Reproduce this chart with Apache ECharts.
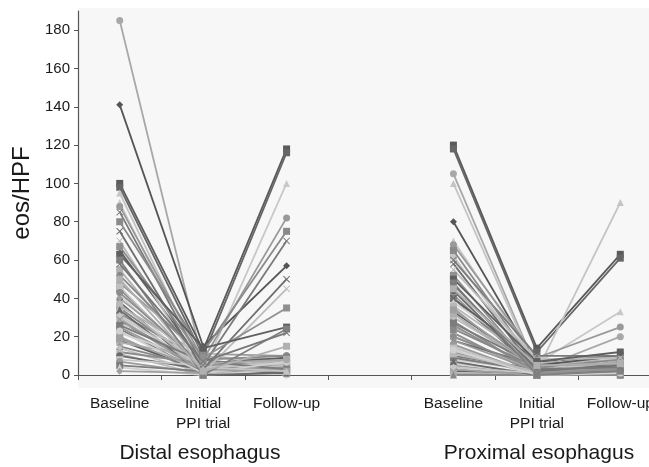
<!DOCTYPE html>
<html>
<head>
<meta charset="utf-8">
<script src="https://cdn.jsdelivr.net/npm/echarts@6/dist/echarts.min.js"></script>
<style>html,body{margin:0;padding:0;background:#fff;}#c{width:649px;height:467px;}</style>
</head>
<body>
<div id="c"></div>
<script>
// Categories (blank slot separates the two sites)
const categories = ['Baseline', 'Initial\nPPI trial', 'Follow-up', '', 'Baseline', 'Initial\nPPI trial', 'Follow-up'];
const yTicks = [0, 20, 40, 60, 80, 100, 120, 140, 160, 180];
const siteTitles = ['Distal esophagus', 'Proximal esophagus'];

// Per-patient values (eos/HPF), index = patient
const distalBaseline = [185,141,100,98,95,90,88,85,80,75,70,67,63,60,58,50,48,45,42,40,38,36,35,33,32,30,28,27,25,24,22,20,18,17,15,14,12,11,10,8,7,5,4,2,65,55,52,46,43,37,34,31,29,26,23,19];
const distalPPI      = [6,15,13,10,4,2,8,5,12,3,1,9,14,0,7,2,11,3,0,6,1,10,4,2,8,0,5,12,3,1,7,0,2,9,4,1,6,0,3,5,1,2,0,1,6,2,8,1,5,3,0,4,2,7,1,3];
const distalFollowup = [8,57,118,116,2,100,82,70,75,50,45,35,25,24,22,15,10,9,8,7,6,5,5,4,3,3,2,2,1,1,0,6,4,8,3,5,2,7,1,4,6,2,3,5,9,3,10,5,2,8,1,6,4,3,7,2];
const proxBaseline   = [105,80,120,118,100,70,68,60,65,58,55,52,50,48,47,45,42,40,38,35,33,30,28,25,22,20,18,15,12,10,8,5,2,1,0,30,26,36,44,62,16,9,6,3,40,32,24,14,20,11,7,4,18,27,13,34];
const proxPPI        = [3,5,14,12,2,6,9,10,4,2,8,1,7,0,3,5,1,2,9,0,4,6,1,3,0,2,5,1,0,3,2,0,1,0,0,4,2,6,1,3,0,2,1,0,7,2,4,1,3,2,0,1,2,5,0,3];
const proxFollowup   = [20,10,63,61,90,33,25,10,8,5,9,3,12,2,4,6,1,7,5,3,2,8,0,4,1,6,2,9,3,0,5,1,4,2,0,10,7,3,5,8,2,6,1,3,10,4,1,5,0,7,2,9,3,6,1,4];

// Styles
const X = 'path://M0,1L1,0L5,4L9,0L10,1L6,5L10,9L9,10L5,6L1,10L0,9L4,5Z';
const DASH = 'path://M0,4L10,4L10,6L0,6Z';
const leadSymbols = ['circle','diamond','rect','rect','triangle','triangle','circle',X,DASH,X,X,DASH,'rect','rect',X,DASH];
const leadColors  = ['#a8a8a8','#555555','#5a5a5a','#666666','#c4c4c4','#c8c8c8','#999999','#7a7a7a','#8a8a8a','#6e6e6e','#bcbcbc','#909090','#5f5f5f','#808080','#777777','#b0b0b0'];
const restSymbols = ['circle','rect','triangle','diamond',X,DASH,'circle','rect'];
const restColors  = ['#8c8c8c','#b8b8b8','#6a6a6a','#c6c6c6','#9a9a9a','#7c7c7c','#d0d0d0','#a0a0a0','#5e5e5e','#b0b0b0','#888888','#c0c0c0'];

const series = distalBaseline.map((b, i) => {
  const sym = i < leadSymbols.length ? leadSymbols[i] : restSymbols[i % restSymbols.length];
  const col = i < leadColors.length ? leadColors[i] : restColors[i % restColors.length];
  return {
    type: 'line',
    name: 'P' + (i + 1),
    data: [b, distalPPI[i], distalFollowup[i], null, proxBaseline[i], proxPPI[i], proxFollowup[i]],
    connectNulls: false,
    symbol: sym,
    symbolSize: 7,
    showSymbol: true,
    lineStyle: { width: 1.8, color: col },
    itemStyle: { color: col },
    emphasis: { disabled: true },
    animation: false,
    z: 3 + (i < 16 ? 1 : 0)
  };
});

const chart = echarts.init(document.getElementById('c'), null, { renderer: 'canvas' });
const font = 'Liberation Sans, Arial, Helvetica, sans-serif';
chart.setOption({
  backgroundColor: '#ffffff',
  animation: false,
  grid: { left: 78, width: 584, top: 11, bottom: 92, show: false, containLabel: false, outerBoundsMode: 'none' },
  graphic: [
    { type: 'rect', shape: { x: 78, y: 8, width: 575, height: 380 }, style: { fill: '#f7f7f7' }, z: -10, silent: true },
    { type: 'text', x: 200, y: 443, style: { text: siteTitles[0], font: '21px ' + font, fill: '#1a1a1a', textAlign: 'center' }, silent: true },
    { type: 'text', x: 539, y: 443, style: { text: siteTitles[1], font: '21px ' + font, fill: '#1a1a1a', textAlign: 'center' }, silent: true }
  ],
  xAxis: {
    type: 'category',
    data: categories,
    boundaryGap: true,
    axisLine: { show: true, lineStyle: { color: '#555', width: 1.2 } },
    axisTick: { show: true, length: 5, alignWithLabel: false, interval: 0, lineStyle: { color: '#555' } },
    axisLabel: { interval: 0, color: '#1a1a1a', fontSize: 15.5, fontFamily: font, margin: 19, lineHeight: 20, hideOverlap: false },
    splitLine: { show: false }
  },
  yAxis: {
    type: 'value',
    min: 0, max: 190, interval: 20,
    name: 'eos/HPF',
    nameLocation: 'middle',
    nameGap: 41,
    nameRotate: 90,
    nameTextStyle: { fontSize: 24, color: '#1a1a1a', fontFamily: font },
    axisLine: { show: true, lineStyle: { color: '#555', width: 1.2 } },
    axisTick: { show: true, length: 4, inside: false, customValues: yTicks, lineStyle: { color: '#555' } },
    axisLabel: { color: '#1a1a1a', fontSize: 15, fontFamily: font, margin: 8, customValues: yTicks },
    splitLine: { show: false }
  },
  series: series
});
</script>
</body>
</html>
